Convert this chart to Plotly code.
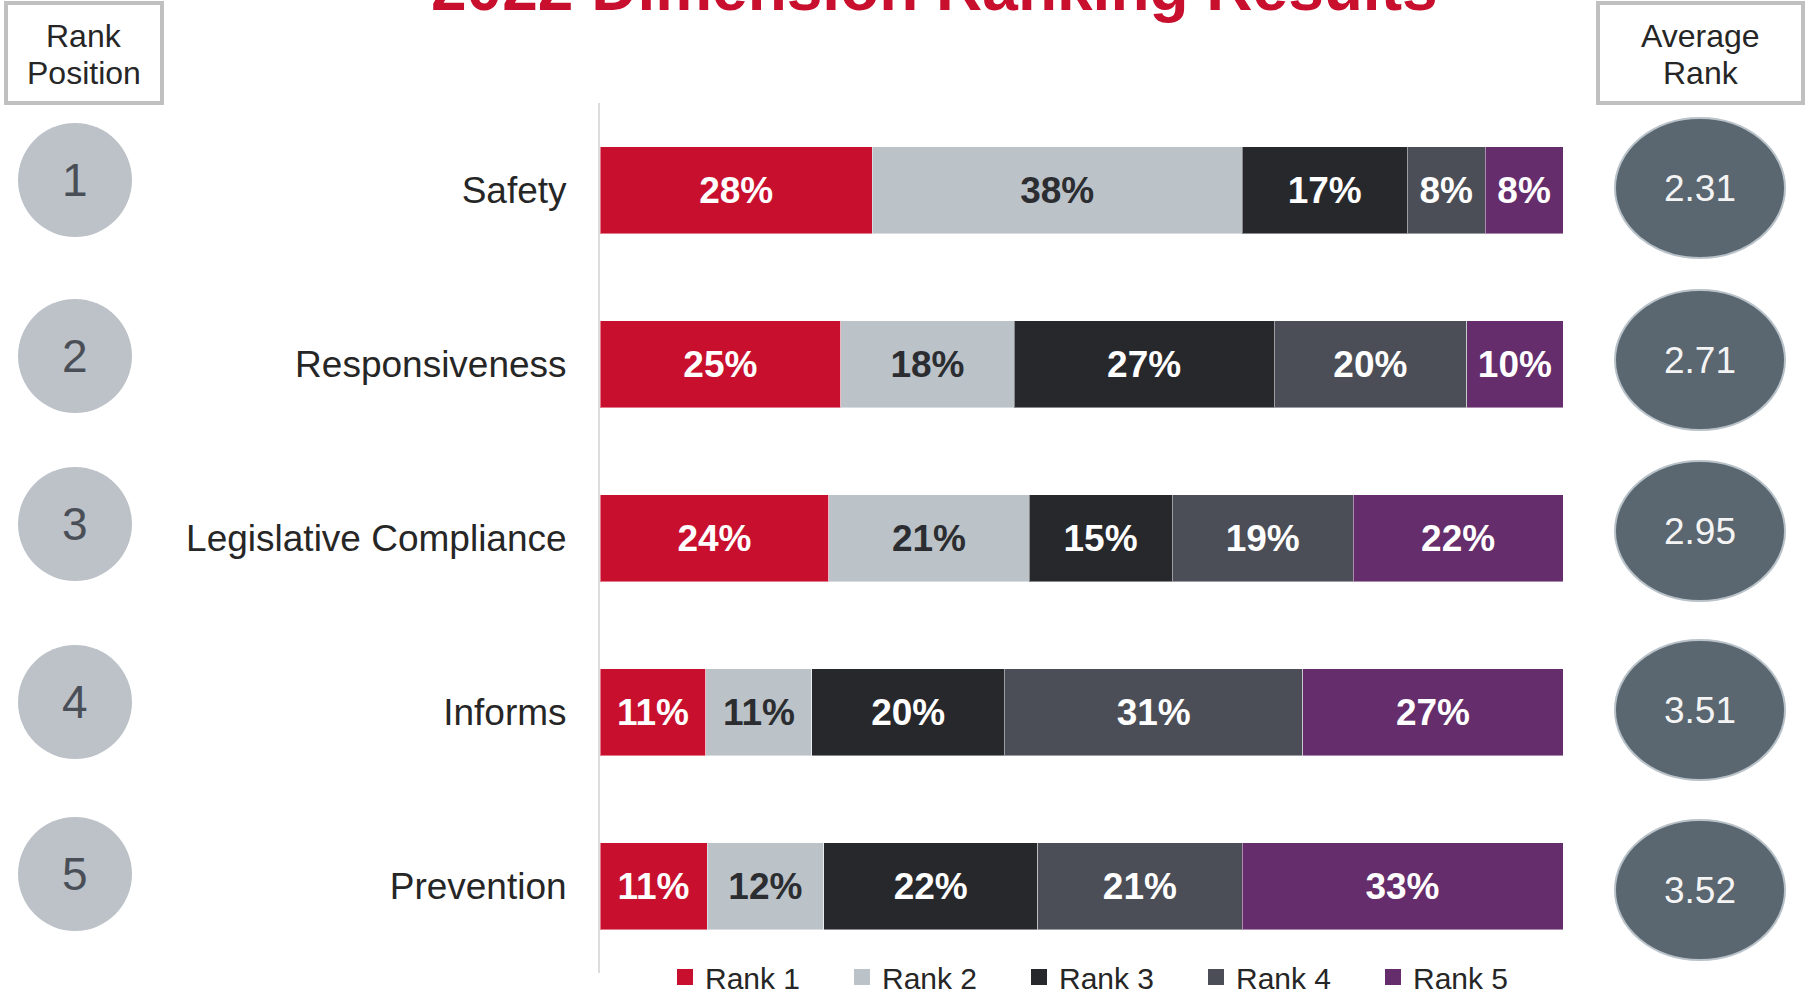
import plotly.graph_objects as go

# ---------------- data ----------------
categories = ["Safety", "Responsiveness", "Legislative Compliance", "Informs", "Prevention"]
series_names = ["Rank 1", "Rank 2", "Rank 3", "Rank 4", "Rank 5"]
rank1 = [28, 25, 24, 11, 11]
rank2 = [38, 18, 21, 11, 12]
rank3 = [17, 27, 15, 20, 22]
rank4 = [8, 20, 19, 31, 21]
rank5 = [8, 10, 22, 27, 33]
rank_positions = ["1", "2", "3", "4", "5"]
average_rank = ["2.31", "2.71", "2.95", "3.51", "3.52"]
title_text = "2022 Dimension Ranking Results"

# ---------------- styles / layout ----------------
colors = ["#c8102e", "#bbc2c8", "#27282c", "#4b4e56", "#652d6b"]
text_colors = ["#ffffff", "#2b2d31", "#ffffff", "#ffffff", "#ffffff"]
FONT = "Liberation Sans, Arial, sans-serif"

W, H = 1812, 996
ML, MT = 600, 103
PW, PH = 963, 870
MR = W - ML - PW
MB = H - MT - PH
UNIT = PH / len(categories)

# vertical nudges (px) of the side badges relative to each bar row
circle_dy = [-10, -8, -14, -10, -12]
ellipse_dy = [-2, -4, -7, -2, 4]


def px_x(px):
    return (px - ML) / PW


def px_y(py):
    return 1 - (py - MT) / PH


fig = go.Figure()
for name, vals, col, tcol in zip(series_names, [rank1, rank2, rank3, rank4, rank5], colors, text_colors):
    fig.add_trace(go.Bar(
        name=name,
        y=categories,
        x=vals,
        orientation="h",
        marker=dict(color=col, line=dict(color="rgba(255,255,255,0.45)", width=1)),
        text=[f"{v}%" for v in vals],
        textposition="inside",
        insidetextanchor="middle",
        textangle=0,
        textfont=dict(family=FONT, size=37, color=tcol, weight="bold"),
        hoverinfo="skip",
        showlegend=False,
    ))
    # legend entry with a larger square swatch
    fig.add_trace(go.Scatter(
        name=name, x=[None], y=[None], mode="markers",
        marker=dict(symbol="square", size=16, color=col),
        showlegend=True, hoverinfo="skip",
    ))

shapes = []
annotations = []

# header boxes
for x0, x1, line1, line2 in [(6, 162, "Rank", "Position"), (1598, 1803, "Average", "Rank")]:
    shapes.append(dict(type="rect", xref="paper", yref="paper",
                       x0=px_x(x0), x1=px_x(x1), y0=px_y(103), y1=px_y(3),
                       line=dict(color="#c0c0c0", width=4), fillcolor="white", layer="above"))
    for txt, cy in [(line1, 36), (line2, 73)]:
        annotations.append(dict(xref="paper", yref="paper", x=px_x((x0 + x1) / 2), y=px_y(cy),
                                text=txt, showarrow=False, xanchor="center", yanchor="middle",
                                font=dict(family=FONT, size=32, color="#262626")))

# left rank circles and right average-rank ellipses
for i, (rp, avg) in enumerate(zip(rank_positions, average_rank)):
    cy = i + circle_dy[i] / UNIT
    r = 57
    shapes.append(dict(type="circle", xref="paper", yref="y",
                       x0=px_x(75 - r), x1=px_x(75 + r),
                       y0=cy - r / UNIT, y1=cy + r / UNIT,
                       fillcolor="#bcc2c8", line=dict(width=0), layer="above"))
    annotations.append(dict(xref="paper", yref="y", x=px_x(75), y=cy, text=rp, showarrow=False,
                            xanchor="center", yanchor="middle",
                            font=dict(family=FONT, size=46, color="#4a4f57")))
    ey = i + ellipse_dy[i] / UNIT
    rx, ry = 85, 70
    shapes.append(dict(type="circle", xref="paper", yref="y",
                       x0=px_x(1700 - rx), x1=px_x(1700 + rx),
                       y0=ey - ry / UNIT, y1=ey + ry / UNIT,
                       fillcolor="#5a6670", line=dict(width=2, color="#b8c2c8"), layer="above"))
    annotations.append(dict(xref="paper", yref="y", x=px_x(1700), y=ey, text=avg, showarrow=False,
                            xanchor="center", yanchor="middle",
                            font=dict(family=FONT, size=37, color="#f4f4f4")))

# title (partly cut at the top, as in the reference)
annotations.append(dict(xref="paper", yref="paper", x=px_x(934), y=px_y(26),
                        text=f"<b>{title_text}</b>", showarrow=False,
                        xanchor="center", yanchor="bottom",
                        font=dict(family=FONT, size=64, color="#c8102e")))

fig.update_layout(
    width=W, height=H,
    margin=dict(l=ML, r=MR, t=MT, b=MB, autoexpand=False),
    paper_bgcolor="white", plot_bgcolor="white",
    barmode="stack", barnorm="percent", bargap=0.5,
    showlegend=True,
    legend=dict(orientation="h", x=px_x(665), xanchor="left", y=px_y(977), yanchor="middle",
                font=dict(family=FONT, size=30, color="#262626"),
                entrywidth=132, entrywidthmode="pixels",
                bgcolor="rgba(0,0,0,0)", traceorder="normal", itemclick=False),
    xaxis=dict(range=[0, 100], visible=False, fixedrange=True),
    yaxis=dict(categoryorder="array", categoryarray=categories, range=[4.5, -0.5],
               showline=True, linecolor="#dcdcdc", linewidth=2, showgrid=False, zeroline=False,
               ticks="", ticklabelstandoff=24,
               tickfont=dict(family=FONT, size=37, color="#262626"), fixedrange=True),
    shapes=shapes,
    annotations=annotations,
    font=dict(family=FONT),
)

fig.write_html("out.html",
               config={"displayModeBar": False},
               post_script="document.body.style.margin='0';document.body.style.overflow='hidden';")
